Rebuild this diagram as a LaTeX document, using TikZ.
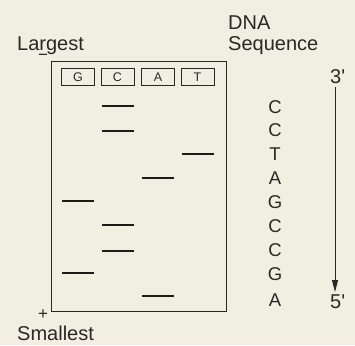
\documentclass[tikz,border=0pt]{standalone}
\usepackage{fontspec}
\setmainfont{Liberation Sans}
\usetikzlibrary{arrows.meta}
\definecolor{bg}{RGB}{241,238,226}
\definecolor{ink}{RGB}{42,40,36}
\definecolor{bandc}{RGB}{30,28,24}
\tikzset{
  lbl/.style={inner sep=0pt, text=ink, font=\fontsize{20}{22}\selectfont, anchor=base west},
  seq/.style={inner sep=0pt, text=ink, font=\fontsize{18.5}{20}\selectfont, anchor=center},
  well/.style={draw=ink, line width=0.9pt, minimum width=33pt, minimum height=17pt, inner sep=0pt, text=ink, font=\fontsize{12.5}{14}\selectfont},
  band/.style={draw=bandc, line width=2.4pt},
  gel/.style={draw=ink, line width=1pt}
}
\begin{document}
\begin{tikzpicture}[x=1pt,y=-1pt]
\fill[bg] (0,0) rectangle (355,345);
\useasboundingbox (0,0) rectangle (355,345);
% gel
\node[gel, minimum width=175pt, minimum height=250pt, inner sep=0pt, anchor=north west] (gelbox) at (51,61) {};
% wells
\node[well] (wG) at (78,77) {G};
\node[well] (wC) at (117.5,77) {C};
\node[well] (wA) at (158,77) {A};
\node[well] (wT) at (197.5,77) {T};
% bands
\foreach \n/\lx/\y in {b1/118/106, b2/118/131, b3/197.5/154, b4/158/178, b5/78/201, b6/118/225, b7/118/251, b8/78/273, b9/158/296}{
  \coordinate (\n l) at (\lx-16,\y);
  \coordinate (\n r) at (\lx+16,\y);
  \draw[band] (\n l) -- (\n r);
}
% labels
\node[lbl] (dna) at (228,30) {DNA};
\node[lbl] (sequence) at (228,50) {Sequence};
\node[lbl] (largest) at (17,50) {Largest};
\node[lbl] (smallest) at (17,340) {Smallest};
\node[inner sep=0pt, text=ink, font=\fontsize{17}{19}\selectfont, text height=2pt, text depth=0pt, anchor=base] (minus) at (43,60.5) {−};
\node[inner sep=0pt, text=ink, font=\fontsize{17}{19}\selectfont] (plus) at (43,315) {+};
% sequence
\foreach \n/\t/\y in {s1/C/107, s2/C/130, s3/T/154, s4/A/178, s5/G/202, s6/C/226, s7/C/250, s8/G/274, s9/A/300}{
  \node[seq] (\n) at (275,\y) {\t};
}
\node[lbl] (three) at (330,83) {3\textquotesingle};
\node[lbl] (five) at (330,308) {5\textquotesingle};
\coordinate (a3) at (335,87);
\coordinate (a5) at (335,292);
\draw[draw=ink, line width=1pt, -{Triangle[length=12pt,width=6pt]}] (a3) -- (a5);
\end{tikzpicture}
\end{document}
